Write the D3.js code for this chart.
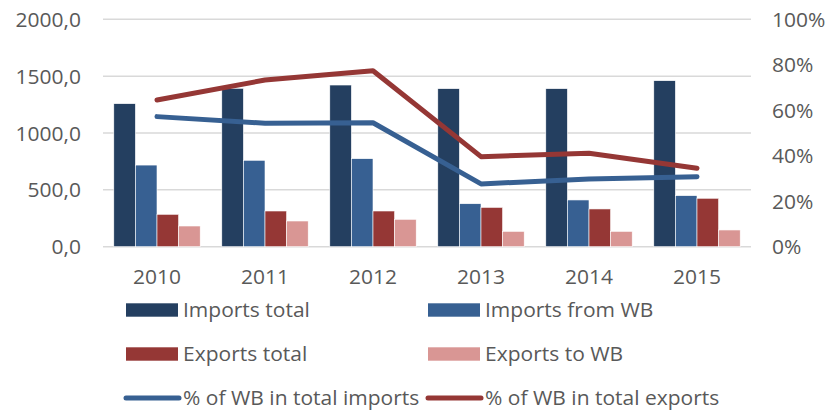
<!DOCTYPE html>
<html lang="en">
  <head>
    <meta charset="utf-8">
    <title>Imports and exports with WB</title>
    <script src="https://cdn.jsdelivr.net/npm/d3@7"></script>
    <style>
      body { margin: 0; background: #fff; }
      text { font-family: "Open Sans", Lato, sans-serif; fill: #595959; }
    </style>
  </head>
  <body>
    <script>
    // values
    var years = ["2010", "2011", "2012", "2013", "2014", "2015"];
    var importsTotal = [1258, 1393, 1422, 1390, 1390, 1460];
    var importsWB = [718, 760, 774, 378, 411, 449];
    var exportsTotal = [285, 314, 314, 346, 332, 426];
    var exportsWB = [182, 226, 241, 135, 135, 147];
    var pctImports = [57.2, 54.3, 54.5, 27.6, 29.8, 30.8];
    var pctExports = [64.5, 73.3, 77.4, 39.6, 41.1, 34.5];
    var leftTicks = [0, 500, 1000, 1500, 2000];
    var rightTicks = [0, 20, 40, 60, 80, 100];

    var barSeries = [
      { name: "Imports total", values: importsTotal, color: "#243f60" },
      { name: "Imports from WB", values: importsWB, color: "#376092" },
      { name: "Exports total", values: exportsTotal, color: "#953735" },
      { name: "Exports to WB", values: exportsWB, color: "#d99694" }
    ];
    var lineSeries = [
      { name: "% of WB in total imports", values: pctImports, color: "#376092" },
      { name: "% of WB in total exports", values: pctExports, color: "#953735" }
    ];

    var w = 827, h = 411;
    var plotLeft = 103, plotRight = 751, plotTop = 19.3, plotBottom = 246.7;
    var fontSize = 20;
    var stretch = "scale(1.05,1)"; // reference text is a little wide

    var svg = d3.select("body").append("svg")
      .attr("width", w).attr("height", h);

    var x = d3.scaleBand().domain(years).range([plotLeft, plotRight]);
    var x1 = d3.scaleBand().domain(d3.range(barSeries.length))
      .range([x.bandwidth() * 0.1, x.bandwidth() * 0.9]);
    var y = d3.scaleLinear().domain([0, 2000]).range([plotBottom, plotTop]);
    var yPct = d3.scaleLinear().domain([0, 100]).range([plotBottom, plotTop]);

    // gridlines
    svg.append("g").selectAll("line").data(leftTicks).enter().append("line")
      .attr("x1", plotLeft).attr("x2", plotRight)
      .attr("y1", function(d) { return y(d); })
      .attr("y2", function(d) { return y(d); })
      .attr("stroke", "#d9d9d9").attr("stroke-width", 1.5);

    var styleTicks = function(g) {
      g.select(".domain").remove();
      g.selectAll("text").attr("font-size", fontSize).attr("dy", "0.35em")
        .attr("transform", stretch)
        .style("font-family", "'Open Sans', sans-serif").attr("fill", "#595959");
    };

    // left axis
    var yAxis = d3.axisLeft(y).tickValues(leftTicks)
      .tickFormat(function(d) { return d3.format(".1f")(d).replace(".", ","); })
      .tickSize(0).tickPadding(0);
    svg.append("g").attr("transform", "translate(81,0)").call(yAxis).call(styleTicks);

    // right axis
    var yAxisR = d3.axisRight(yPct).tickValues(rightTicks)
      .tickFormat(function(d) { return d + "%"; })
      .tickSize(0).tickPadding(0);
    svg.append("g").attr("transform", "translate(772,0)").call(yAxisR).call(styleTicks);

    // x axis labels
    var xAxis = d3.axisBottom(x).tickSize(0).tickPadding(0);
    svg.append("g").attr("transform", "translate(0,277)").call(xAxis).call(styleTicks);

    // bars
    barSeries.forEach(function(s, si) {
      svg.append("g").selectAll("rect").data(s.values).enter().append("rect")
        .attr("x", function(d, i) { return x(years[i]) + x1(si); })
        .attr("width", x1.bandwidth())
        .attr("y", function(d) { return y(d); })
        .attr("height", function(d) { return plotBottom - y(d); })
        .attr("fill", s.color)
        .attr("stroke", "#ffffff").attr("stroke-width", 0.6);
    });

    // lines
    var line = d3.line()
      .x(function(d, i) { return x(years[i]) + x.bandwidth() / 2; })
      .y(function(d) { return yPct(d); });
    lineSeries.forEach(function(s) {
      svg.append("path").datum(s.values)
        .attr("d", line)
        .attr("fill", "none")
        .attr("stroke", s.color)
        .attr("stroke-width", 5)
        .attr("stroke-linecap", "round")
        .attr("stroke-linejoin", "round");
    });

    // legend
    var legendRows = [310, 354, 398];
    var legendCols = [126, 428];
    var items = barSeries.concat(lineSeries);
    var lg = svg.append("g");
    items.forEach(function(s, i) {
      var cx = legendCols[i % 2], cy = legendRows[Math.floor(i / 2)];
      if (i < 4) {
        lg.append("rect").attr("x", cx).attr("y", cy - 6.7)
          .attr("width", 52).attr("height", 13.4).attr("fill", s.color);
      } else {
        lg.append("line").attr("x1", cx).attr("x2", cx + 53)
          .attr("y1", cy).attr("y2", cy)
          .attr("stroke", s.color).attr("stroke-width", 5)
          .attr("stroke-linecap", "round");
      }
      lg.append("g").attr("transform", "translate(" + (cx + 57) + "," + cy + ")")
        .append("text").attr("dy", "0.35em").attr("transform", stretch)
        .attr("font-size", fontSize).text(s.name);
    });
    </script>
  </body>
</html>
